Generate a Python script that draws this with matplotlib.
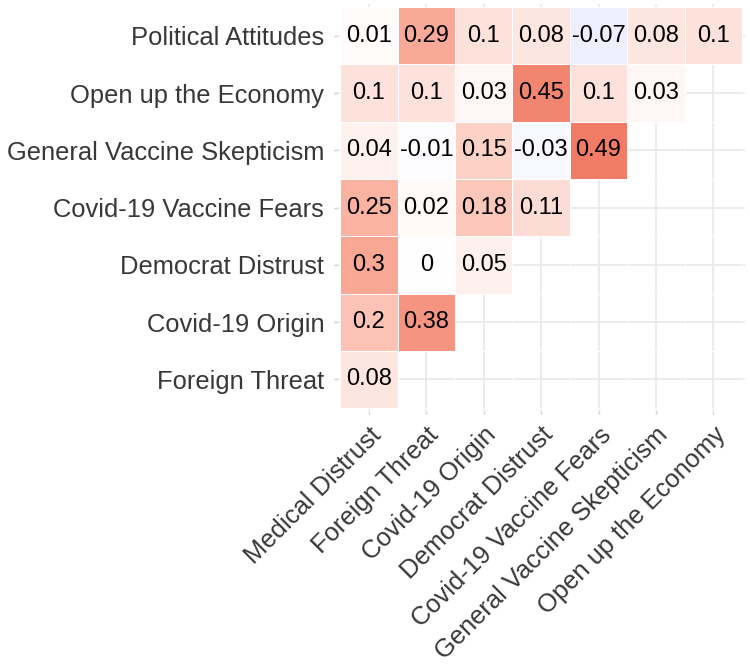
import numpy as np
import matplotlib
matplotlib.use("Agg")
import matplotlib.pyplot as plt
from matplotlib.colors import LinearSegmentedColormap

# rows from top to bottom, columns from left to right
row_labels = ["Political Attitudes", "Open up the Economy", "General Vaccine Skepticism",
              "Covid-19 Vaccine Fears", "Democrat Distrust", "Covid-19 Origin", "Foreign Threat"]
col_labels = ["Medical Distrust", "Foreign Threat", "Covid-19 Origin", "Democrat Distrust",
              "Covid-19 Vaccine Fears", "General Vaccine Skepticism", "Open up the Economy"]

political = [0.01, 0.29, 0.1, 0.08, -0.07, 0.08, 0.1]
economy = [0.1, 0.1, 0.03, 0.45, 0.1, 0.03]
gen_vaccine = [0.04, -0.01, 0.15, -0.03, 0.49]
covid_fears = [0.25, 0.02, 0.18, 0.11]
democrat = [0.3, 0, 0.05]
origin = [0.2, 0.38]
foreign = [0.08]

rows = [political, economy, gen_vaccine, covid_fears, democrat, origin, foreign]
n = len(col_labels)
mat = np.full((len(rows), n), np.nan)
for i, r in enumerate(rows):
    mat[i, :len(r)] = r

cmap = LinearSegmentedColormap.from_list(
    "corr", [(0.0, "#0000FF"), (0.5, "#FFFFFF"), (0.625, "#FAB3A2"),
             (0.75, "#F07A62"), (1.0, "#B50000")])

plt.rcParams["font.family"] = ["Liberation Sans", "DejaVu Sans"]
fig = plt.figure(figsize=(7.5, 6.66), dpi=100)
ax = fig.add_axes([0.4499, 0.3829, 0.5433, 0.6108])

xe = np.arange(n + 1) - 0.5
ye = np.arange(len(rows) + 1) - 0.5
ax.pcolormesh(xe, ye, np.ma.masked_invalid(mat), cmap=cmap, vmin=-1, vmax=1,
              edgecolors="white", linewidth=0.7)

for i, r in enumerate(rows):
    for j, v in enumerate(r):
        ax.text(j, i, f"{v:g}", ha="center", va="center", fontsize=17, color="black")

ax.set_xlim(-0.55, n - 0.45)
ax.set_ylim(len(rows) - 0.45, -0.55)
ax.set_xticks(range(n))
ax.set_yticks(range(len(rows)))
ax.set_xticklabels(col_labels, rotation=45, ha="right", va="top", rotation_mode="anchor")
ax.set_yticklabels(row_labels)
ax.tick_params(length=2.5, width=1, color="#CCCCCC", labelsize=18.4, labelcolor="#383838")
ax.tick_params(axis="y", pad=7)
ax.tick_params(axis="x", pad=6)
ax.set_axisbelow(True)
ax.grid(True, color="#EBEBEB", linewidth=1.3)
for s in ax.spines.values():
    s.set_visible(False)

fig.savefig("out.png", dpi=100)
